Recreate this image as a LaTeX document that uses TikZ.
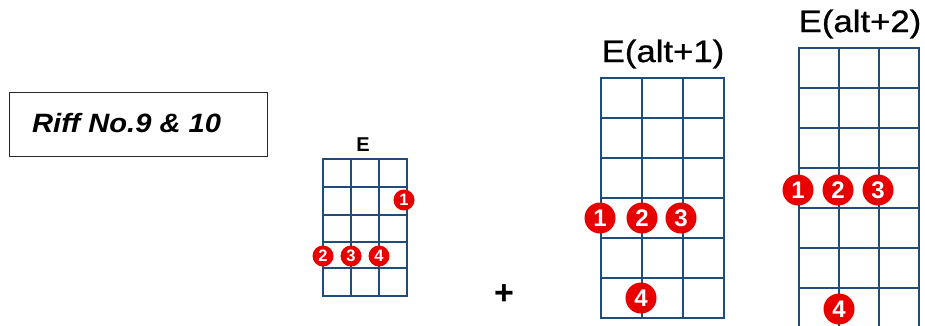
\documentclass[tikz,border=0pt]{standalone}
\usepackage{fontspec}
\setmainfont{Liberation Sans}
\newfontfamily\titlefont[FakeBold=0.7]{Liberation Sans}
\definecolor{gridblue}{RGB}{31,76,122}
\definecolor{dotred}{RGB}{232,0,0}
\tikzset{
  fretline/.style={draw=gridblue, line width=1.8pt},
  fretframe/.style={draw=gridblue, line width=2.6pt},
  bigdot/.style={circle, fill=dotred, inner sep=0pt, minimum size=31pt, text=white, font=\fontsize{24}{24}\selectfont\bfseries},
  smalldot/.style={circle, fill=dotred, inner sep=0pt, minimum size=21pt, text=white, font=\fontsize{16.5}{16.5}\selectfont\bfseries},
  chordtitle/.style={inner sep=0pt, font=\fontsize{31}{31}\titlefont},
}
% #1 left x, #2 top y, #3 column width, #4 row height, #5 number of rows
\newcommand\fretgrid[5]{%
  \foreach \i in {1,...,#5} {\draw[fretline] (#1, #2+\i*#4) -- ++(3*#3, 0);}
  \foreach \j in {1,2} {\draw[fretline] (#1+\j*#3, #2) -- ++(0, #5*#4);}
  \draw[fretframe] (#1,#2) rectangle ++(3*#3, #5*#4);
}
\begin{document}
\begin{tikzpicture}[x=1pt, y=-1pt]
\useasboundingbox (0,0) rectangle (925,325);
\clip (0,0) rectangle (925,325);
\fill[white] (0,0) rectangle (925,325);

% title box
\node[draw=black!85, line width=1.4pt, minimum width=258pt, minimum height=64pt, anchor=north west, inner sep=0pt] (box) at (9,92) {};
\node[anchor=base west, inner sep=0pt, font=\fontsize{26.5}{26.5}\selectfont\bfseries\itshape] (riff) at (32,132) {\scalebox{1.1}[1]{Riff No.9 \& 10}};

% small E chord
\begin{scope}
\draw[fretline, line width=1.4pt] (323,187) -- (407,187);
\draw[fretline, line width=1.4pt] (323,215) -- (407,215);
\draw[fretline, line width=1.4pt] (323,242) -- (407,242);
\draw[fretline, line width=1.4pt] (323,268) -- (407,268);
\draw[fretline, line width=1.4pt] (351,159) -- (351,296);
\draw[fretline, line width=1.4pt] (379,159) -- (379,296);
\draw[fretframe, line width=2pt] (323,159) rectangle (407,296);
\end{scope}
\node[inner sep=0pt, font=\fontsize{20}{20}\selectfont\bfseries] (etitle) at (363,145) {E};
\node[smalldot] (s1) at (404,200) {1};
\node[smalldot] (s2) at (323,256) {2};
\node[smalldot] (s3) at (351,256) {3};
\node[smalldot] (s4) at (379,256) {4};

% plus
\node[inner sep=0pt, font=\fontsize{34}{34}\selectfont\bfseries] (plus) at (504,295) {+};

% E(alt+1)
\fretgrid{601}{78}{41}{40}{6}
\node[chordtitle] (t1) at (663,54) {\scalebox{1.12}[1]{E(alt+1)}};
\node[bigdot] (a1) at (600,218) {1};
\node[bigdot] (a2) at (642,218) {2};
\node[bigdot] (a3) at (681,218) {3};
\node[bigdot] (a4) at (641,298) {4};

% E(alt+2)
\fretgrid{799}{48}{40}{40}{7}
\node[chordtitle] (t2) at (860,24) {\scalebox{1.12}[1]{E(alt+2)}};
\node[bigdot] (b1) at (798,190) {1};
\node[bigdot] (b2) at (838,190) {2};
\node[bigdot] (b3) at (878,190) {3};
\node[bigdot] (b4) at (839,309) {4};
\end{tikzpicture}
\end{document}
